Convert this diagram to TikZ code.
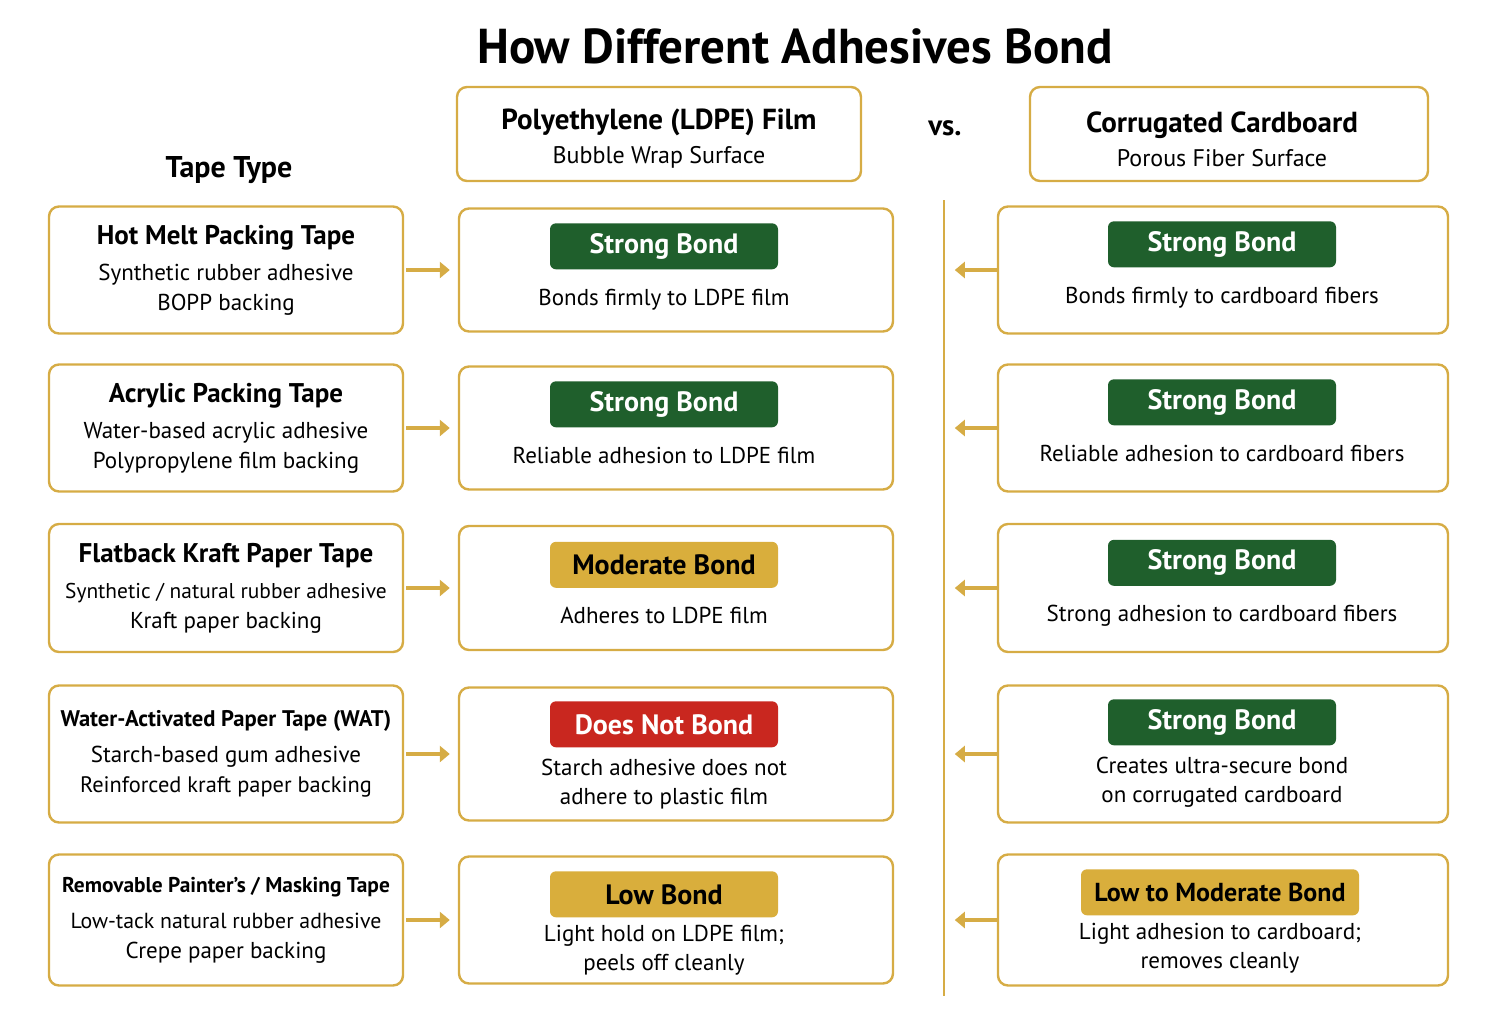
\documentclass[tikz,border=0pt]{standalone}
\usepackage{fontspec}
\setmainfont{PT Sans}
\usetikzlibrary{arrows.meta,positioning}
\definecolor{goldline}{HTML}{D6AC45}
\definecolor{goldfill}{HTML}{D9AE3C}
\definecolor{bondgreen}{HTML}{1F5F2C}
\definecolor{bondred}{HTML}{C9271F}
\tikzset{
  box/.style={draw=goldline, line width=1.2pt, rounded corners=5pt, fill=white, align=center, inner sep=0pt},
  badge/.style={rounded corners=3pt, minimum width=114pt, minimum height=23pt, inner sep=0pt, font=\fontsize{14}{16}\selectfont\bfseries},
  good/.style={badge, fill=bondgreen, text=white},
  fair/.style={badge, fill=goldfill, text=black},
  bad/.style={badge, fill=bondred, text=white},
  note/.style={align=center, font=\fontsize{11.5}{14.5}\selectfont},
  link/.style={draw=goldline, line width=1.8pt, -{Triangle[length=5pt,width=8pt]}}
}
% row: #1 index, #2 y, #3 height (pt), #4 tape name, #5 tape text
\newcommand\taperow[5]{
  \node[box, font=\fontsize{11.5}{15}\selectfont, minimum width=177pt, minimum height=#3pt] (tape#1) at (226,#2)
    {{\fontsize{13.5}{16}\selectfont\bfseries #4}\\[3pt]#5};
  \node[box, minimum width=217pt, minimum height=#3pt-2pt] (mid#1) at (676,#2) {};
  \node[box, minimum width=225pt, minimum height=#3pt] (right#1) at (1223,#2) {};
  \draw[link, shorten >=4pt] ([xshift=1pt]tape#1.east) -- (mid#1.west);
  \draw[link] (right#1.west) -- ++(-42,0);
}
\begin{document}
\begin{tikzpicture}[x=0.5pt, y=-0.5pt]
  \useasboundingbox (0,0) rectangle (1500,1024);

  % headings
  \node (title) at (795,46) {\fontsize{24.5}{28}\selectfont\bfseries How Different Adhesives Bond};
  \node[box, minimum width=202pt, minimum height=47pt] (ldpe) at (659,134) {};
  \node[align=center] at (659,139)
    {{\fontsize{14.5}{17}\selectfont\bfseries Polyethylene (LDPE) Film}\\[5pt]{\fontsize{12}{14}\selectfont Bubble Wrap Surface}};
  \node (vs) at (945,128) {\fontsize{14.5}{17}\selectfont\bfseries vs.};
  \node[box, minimum width=199pt, minimum height=47pt] (card) at (1229,134) {};
  \node[align=center] at (1222,139)
    {{\fontsize{14.5}{17}\selectfont\bfseries Corrugated Cardboard}\\[5pt]{\fontsize{12}{14}\selectfont Porous Fiber Surface}};
  \node (tapetype) at (229,170) {\fontsize{15}{17}\selectfont\bfseries Tape Type};

  % divider
  \coordinate (divtop) at (944,200);
  \coordinate (divbot) at (944,996);
  \draw[goldline, line width=1.2pt] (divtop) -- (divbot);

  % rows
  \taperow{1}{270}{63.5}{Hot Melt Packing Tape}{Synthetic rubber adhesive\\BOPP backing}
  \taperow{2}{428}{63.5}{Acrylic Packing Tape}{Water-based acrylic adhesive\\Polypropylene film backing}
  \taperow{3}{588}{64}{Flatback Kraft Paper Tape}{{\fontsize{10.7}{15}\selectfont Synthetic / natural rubber adhesive}\\Kraft paper backing}
  \taperow{4}{754}{68.5}{\fontsize{11.3}{15}\selectfont Water-Activated Paper Tape (WAT)}{Starch-based gum adhesive\\{\fontsize{11.2}{15}\selectfont Reinforced kraft paper backing}}
  \taperow{5}{920}{65.5}{\fontsize{10.7}{15}\selectfont Removable Painter's / Masking Tape}{{\fontsize{10.9}{15}\selectfont Low-tack natural rubber adhesive}\\Crepe paper backing}

  % LDPE results
  \node[good] (b1l) at ([yshift=-19.5pt]mid1.north -| 664,0) {Strong Bond};
  \node[note, below=6pt of b1l] {Bonds firmly to LDPE film};
  \node[good] (b2l) at ([yshift=-19.5pt]mid2.north -| 664,0) {Strong Bond};
  \node[note, below=6pt of b2l] {Reliable adhesion to LDPE film};
  \node[fair] (b3l) at ([yshift=-20pt]mid3.north -| 664,0) {Moderate Bond};
  \node[note, below=6pt of b3l] {Adheres to LDPE film};
  \node[bad] (b4l) at ([yshift=-19pt]mid4.north -| 664,0) {Does Not Bond};
  \node[note, below=2pt of b4l] {Starch adhesive does not\\adhere to plastic film};
  \node[fair] (b5l) at ([yshift=-19.5pt]mid5.north -| 664,0) {Low Bond};
  \node[note, below=0pt of b5l] {Light hold on LDPE film;\\peels off cleanly};

  % cardboard results
  \node[good] (b1r) at ([yshift=-19.5pt]right1.north -| 1222,0) {Strong Bond};
  \node[note, below=6pt of b1r] {Bonds firmly to cardboard fibers};
  \node[good] (b2r) at ([yshift=-19.5pt]right2.north -| 1222,0) {Strong Bond};
  \node[note, below=6pt of b2r] {Reliable adhesion to cardboard fibers};
  \node[good] (b3r) at ([yshift=-20pt]right3.north -| 1222,0) {Strong Bond};
  \node[note, below=6pt of b3r] {Strong adhesion to cardboard fibers};
  \node[good] (b4r) at ([yshift=-19pt]right4.north -| 1222,0) {Strong Bond};
  \node[note, below=2pt of b4r] {Creates ultra-secure bond\\on corrugated cardboard};
  \node[fair, minimum width=139pt, font=\fontsize{13}{15}\selectfont\bfseries] (b5r) at ([yshift=-19.5pt]right5.north -| 1220,0) {Low to Moderate Bond};
  \node[note, below=0pt of b5r] {Light adhesion to cardboard;\\removes cleanly};
\end{tikzpicture}
\end{document}
